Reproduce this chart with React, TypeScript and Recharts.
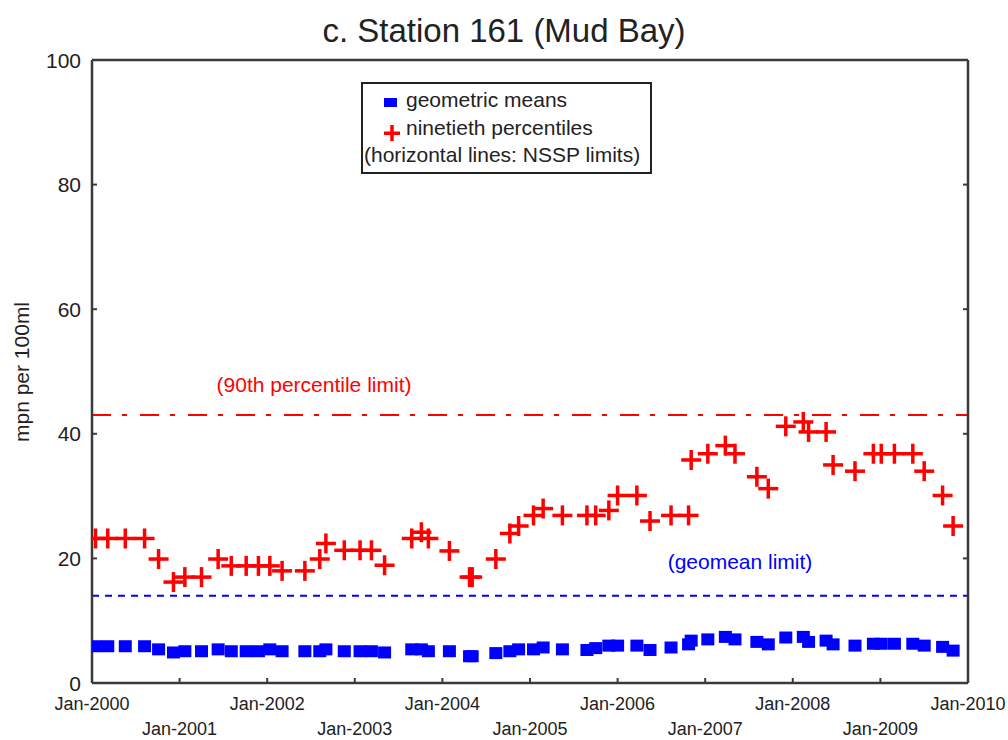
import { ScatterChart, Scatter, XAxis, YAxis, ReferenceLine } from 'recharts';

// sample dates as decimal years
const sampleDates = [
  2000.04, 2000.18, 2000.38, 2000.6, 2000.76, 2000.93, 2001.06, 2001.25, 2001.44, 2001.59,
  2001.76, 2001.9, 2002.03, 2002.17, 2002.43, 2002.6, 2002.67, 2002.88, 2003.06, 2003.19,
  2003.34, 2003.65, 2003.76, 2003.84, 2004.08, 2004.31, 2004.34, 2004.61, 2004.77, 2004.87,
  2005.04, 2005.15, 2005.37, 2005.65, 2005.75, 2005.9, 2006.0, 2006.22, 2006.37, 2006.61,
  2006.81, 2006.84, 2007.03, 2007.23, 2007.34, 2007.59, 2007.72, 2007.92, 2008.12, 2008.18,
  2008.38, 2008.46, 2008.71, 2008.92, 2009.01, 2009.16, 2009.37, 2009.5, 2009.71, 2009.83,
];

const geoMeans = [
  5.9, 5.9, 5.9, 5.9, 5.4, 4.9, 5.1, 5.1, 5.4, 5.1,
  5.1, 5.1, 5.4, 5.1, 5.1, 5.1, 5.4, 5.1, 5.1, 5.1,
  4.9, 5.4, 5.4, 5.1, 5.1, 4.3, 4.3, 4.8, 5.1, 5.4,
  5.4, 5.7, 5.4, 5.3, 5.6, 6.0, 6.0, 6.0, 5.3, 5.7,
  6.2, 6.8, 7.0, 7.4, 7.0, 6.6, 6.2, 7.3, 7.4, 6.6,
  6.8, 6.2, 6.0, 6.3, 6.3, 6.3, 6.3, 6.0, 5.8, 5.2,
];

const ninetieth = [
  23.2, 23.2, 23.2, 23.2, 19.9, 16.2, 17.0, 17.0, 19.9, 18.8,
  18.8, 18.8, 18.8, 18.0, 18.0, 19.9, 22.4, 21.3, 21.3, 21.3,
  18.9, 23.2, 24.2, 23.2, 21.2, 17.0, 17.0, 19.9, 24.0, 25.2,
  26.9, 28.0, 26.9, 26.9, 26.9, 27.7, 30.1, 30.1, 26.0, 26.9,
  26.9, 35.8, 36.8, 38.1, 36.8, 33.1, 31.2, 41.2, 41.9, 40.3,
  40.3, 35.0, 34.0, 36.8, 36.8, 36.8, 36.8, 34.0, 30.1, 25.2,
];

const yearTicks = [2000, 2001, 2002, 2003, 2004, 2005, 2006, 2007, 2008, 2009, 2010];
const quarterTicks = yearTicks.flatMap((y) => (y < 2010 ? [y, y + 0.25, y + 0.5, y + 0.75] : [y]));
const valueTicks = [0, 20, 40, 60, 80, 100];

const P90_LIMIT = 43;
const GEOMEAN_LIMIT = 14;

const FONT = '"Liberation Sans", Arial, sans-serif';
const AXIS = '#3a3a3a';
const RED = '#ff0000';
const BLUE = '#0000ff';

const geoData = sampleDates.map((d, i) => ({ date: d, value: geoMeans[i] }));
const p90Data = sampleDates.map((d, i) => ({ date: d, value: ninetieth[i] }));

const BlueSquare = (p: any) => <rect x={p.cx - 6.5} y={p.cy - 6} width={13} height={12} fill={BLUE} />;

const RedCross = (p: any) => (
  <g fill={RED}>
    <rect x={p.cx - 10} y={p.cy - 1.75} width={20} height={3.5} />
    <rect x={p.cx - 1.75} y={p.cy - 10} width={3.5} height={20} />
  </g>
);

const BottomTick = (p: any) => {
  const yr = Math.round(p.payload.value);
  const lower = yr % 2 === 1;
  return (
    <g>
      <line x1={p.x} x2={p.x} y1={p.y} y2={p.y - 5} stroke={AXIS} strokeWidth={2} />
      <text x={p.x} y={p.y + (lower ? 52 : 27)} textAnchor="middle" fontSize={18} fill="#222" fontFamily={FONT}>
        {`Jan-${yr}`}
      </text>
    </g>
  );
};

const TopTick = (p: any) => {
  const v = p.payload.value;
  const isYear = Math.abs(v - Math.round(v)) < 1e-6;
  return <line x1={p.x} x2={p.x} y1={p.y} y2={p.y + (isYear ? 6 : 4)} stroke={AXIS} strokeWidth={2} />;
};

const LeftTick = (p: any) => (
  <g>
    <line x1={p.x} x2={p.x + 5} y1={p.y} y2={p.y} stroke={AXIS} strokeWidth={2} />
    <text x={p.x - 11} y={p.y + 7.5} textAnchor="end" fontSize={21} fill="#222" fontFamily={FONT}>
      {p.payload.value}
    </text>
  </g>
);

const RightTick = (p: any) => <line x1={p.x} x2={p.x - 5} y1={p.y} y2={p.y} stroke={AXIS} strokeWidth={2} />;

const limitLabel = (text: string, color: string, dx: number, dy: number) => (props: any) => {
  const vb = props.viewBox;
  return (
    <text x={vb.x + dx} y={vb.y + dy} textAnchor="middle" fontSize={21} fill={color} fontFamily={FONT}>
      {text}
    </text>
  );
};

const axisLine = { stroke: AXIS, strokeWidth: 2.5 };

export default function App() {
  return (
    <div style={{ position: 'absolute', left: 0, top: 0, width: 1008, height: 740, background: '#fff', fontFamily: FONT }}>
      <ScatterChart width={1008} height={740} margin={{ top: 50, right: 30, bottom: 27, left: 32 }}>
        <XAxis
          xAxisId="bottom"
          dataKey="date"
          type="number"
          domain={[2000, 2010]}
          ticks={yearTicks}
          interval={0}
          tickSize={0}
          tickMargin={0}
          tick={BottomTick}
          axisLine={axisLine}
          height={30}
          allowDataOverflow
        />
        <XAxis
          xAxisId="top"
          orientation="top"
          type="number"
          domain={[2000, 2010]}
          ticks={quarterTicks}
          interval={0}
          tickSize={0}
          tickMargin={0}
          tick={TopTick}
          axisLine={axisLine}
          height={10}
          allowDataOverflow
        />
        <YAxis
          yAxisId="left"
          dataKey="value"
          type="number"
          domain={[0, 100]}
          ticks={valueTicks}
          interval={0}
          tickSize={0}
          tickMargin={0}
          tick={LeftTick}
          axisLine={axisLine}
          width={60}
          allowDataOverflow
        />
        <YAxis
          yAxisId="right"
          orientation="right"
          type="number"
          domain={[0, 100]}
          ticks={valueTicks}
          interval={0}
          tickSize={0}
          tickMargin={0}
          tick={RightTick}
          axisLine={axisLine}
          width={10}
          allowDataOverflow
        />
        <ReferenceLine
          xAxisId="bottom"
          yAxisId="left"
          y={P90_LIMIT}
          stroke={RED}
          strokeWidth={2}
          strokeDasharray="19 11 5 13"
          label={limitLabel('(90th percentile limit)', RED, 222, -23)}
        />
        <ReferenceLine
          xAxisId="bottom"
          yAxisId="left"
          y={GEOMEAN_LIMIT}
          stroke={BLUE}
          strokeWidth={2}
          strokeDasharray="7 6"
          label={limitLabel('(geomean limit)', BLUE, 648, -27)}
        />
        <Scatter
          name="geometric means"
          xAxisId="bottom"
          yAxisId="left"
          data={geoData}
          shape={BlueSquare}
          isAnimationActive={false}
        />
        <Scatter
          name="ninetieth percentiles"
          xAxisId="bottom"
          yAxisId="left"
          data={p90Data}
          shape={RedCross}
          isAnimationActive={false}
        />
      </ScatterChart>

      <svg width={1008} height={740} style={{ position: 'absolute', left: 0, top: 0, pointerEvents: 'none' }}>
        <text x={504} y={42} textAnchor="middle" fontSize={33} fill="#222" fontFamily={FONT}>
          c. Station 161 (Mud Bay)
        </text>
        <text
          x={29}
          y={372}
          transform="rotate(-90, 29, 372)"
          textAnchor="middle"
          fontSize={21}
          fill="#222"
          fontFamily={FONT}
        >
          mpn per 100ml
        </text>
        <rect x={362} y={83} width={289} height={90} fill="#fff" stroke="#222" strokeWidth={2} />
        <rect x={384} y={98} width={13} height={9} fill={BLUE} />
        <text x={406} y={107} fontSize={21} fill="#222" fontFamily={FONT}>geometric means</text>
        <g fill={RED}>
          <rect x={384} y={131.5} width={16} height={3.5} />
          <rect x={390.25} y={125} width={3.5} height={16} />
        </g>
        <text x={406} y={135} fontSize={21} fill="#222" fontFamily={FONT}>ninetieth percentiles</text>
        <text x={364} y={162} fontSize={21} fill="#222" fontFamily={FONT}>(horizontal lines: NSSP limits)</text>
      </svg>
    </div>
  );
}
